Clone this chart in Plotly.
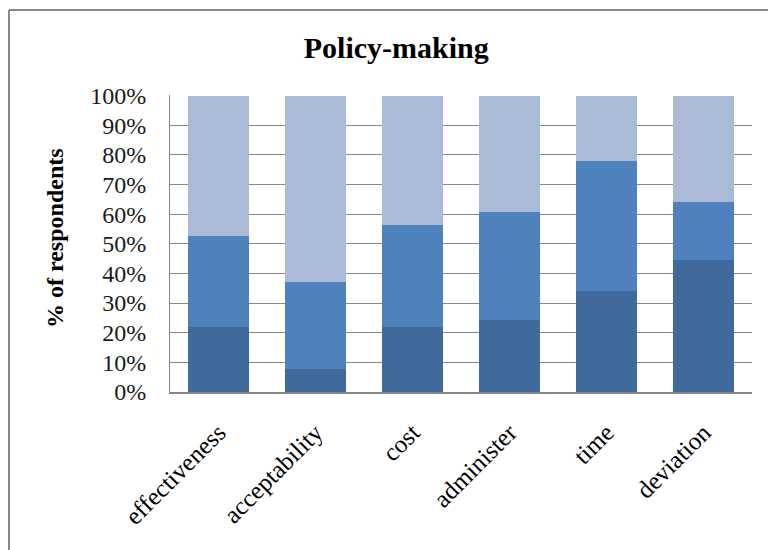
import plotly.graph_objects as go

# Criteria assessed for policy-making
categories = ["effectiveness", "acceptability", "cost", "administer", "time", "deviation"]

# Share of respondents (%) per rating band, bottom to top of each stacked bar
band_low = [22.0, 7.7, 22.0, 24.2, 34.0, 44.4]
band_mid = [30.5, 29.3, 34.2, 36.4, 44.1, 19.6]
band_high = [47.5, 63.0, 43.8, 39.4, 21.9, 36.0]

y_ticks = list(range(0, 101, 10))
y_tick_text = [f"{v}%" for v in y_ticks]

band_colors = ["#406A9B", "#4F81BD", "#AABAD7"]
band_names = ["low", "medium", "high"]

fig = go.Figure()
for name, vals, col in zip(band_names, [band_low, band_mid, band_high], band_colors):
    fig.add_trace(go.Bar(
        x=categories, y=vals, name=name,
        marker=dict(color=col, line=dict(width=0)),
        hoverinfo="x+y",
    ))

serif = "Liberation Serif, Times New Roman, serif"
grid_gray = "#878787"

fig.update_layout(
    barmode="stack",
    bargap=0.37,
    width=768, height=550,
    margin=dict(l=170, r=16, t=95, b=158, autoexpand=False),
    paper_bgcolor="white",
    plot_bgcolor="white",
    showlegend=False,
    font=dict(family=serif, color="black"),
    title=dict(
        text="<b>Policy-making</b>",
        font=dict(family=serif, size=30, color="black"),
        xref="container", x=0.516, xanchor="center",
        yref="container", y=1 - 47 / 550, yanchor="middle",
    ),
    xaxis=dict(
        type="category",
        tickangle=-45,
        tickfont=dict(family=serif, size=25, color="black"),
        showline=True, linecolor=grid_gray, linewidth=2,
        showgrid=False, ticks="", ticklabelstandoff=14,
        automargin=False,
    ),
    yaxis=dict(
        range=[0, 100.2],
        tickvals=y_ticks, ticktext=y_tick_text,
        tickfont=dict(family=serif, size=24, color="#1a1a1a"),
        showline=True, linecolor=grid_gray, linewidth=1,
        showgrid=True, gridcolor=grid_gray, gridwidth=1,
        zeroline=False, ticks="", ticklabelstandoff=18,
        automargin=False,
    ),
    annotations=[dict(
        text="<b>% of respondents</b>",
        textangle=-90,
        xref="paper", yref="paper",
        x=(55 - 170) / 582, y=(392 - 238) / 297,
        xanchor="center", yanchor="middle",
        showarrow=False,
        font=dict(family=serif, size=24, color="black"),
    )],
    shapes=[
        # outer chart frame (left and top edges)
        dict(type="line", xref="paper", yref="paper",
             x0=(9 - 170) / 582, x1=(9 - 170) / 582,
             y0=(392 - 552) / 297, y1=(392 - 10) / 297,
             line=dict(color="#888888", width=2)),
        dict(type="line", xref="paper", yref="paper",
             x0=(9 - 170) / 582, x1=(770 - 170) / 582,
             y0=(392 - 10) / 297, y1=(392 - 10) / 297,
             line=dict(color="#888888", width=2)),
    ],
)

fig.write_html("out.html")
